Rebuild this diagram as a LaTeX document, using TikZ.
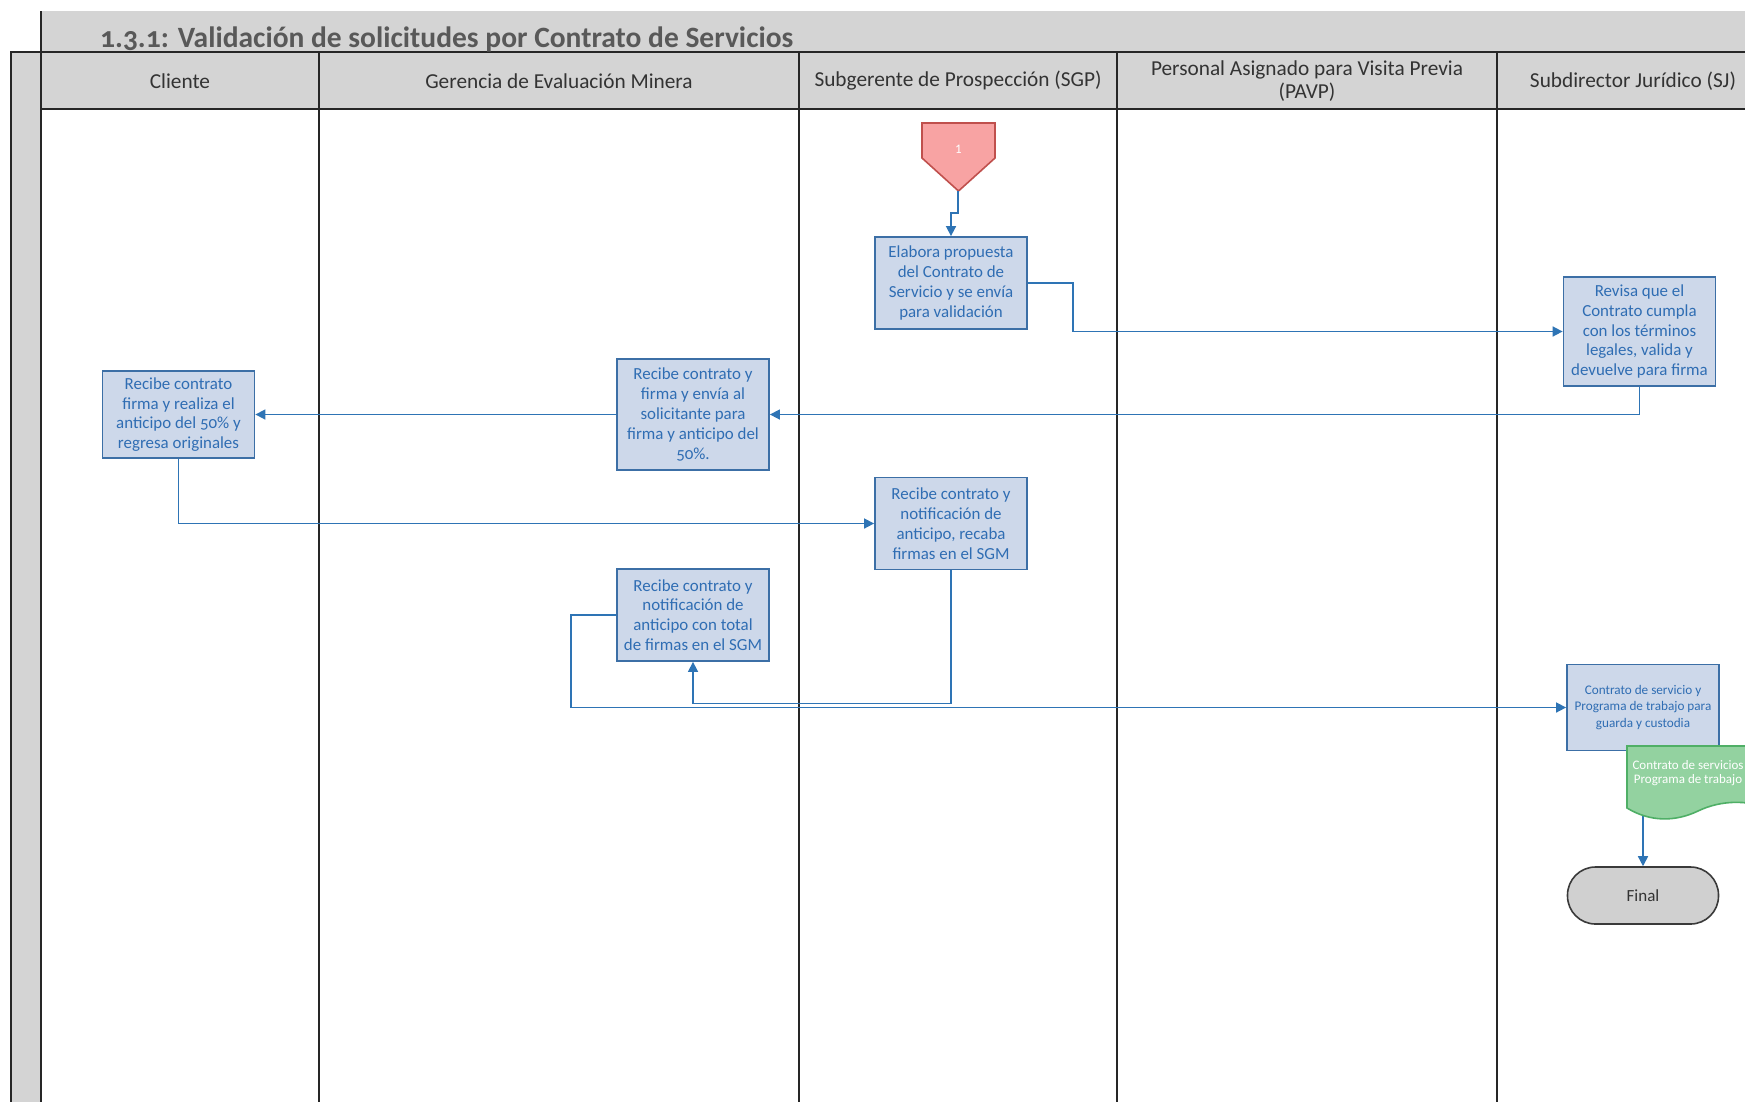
\documentclass[tikz,border=0pt]{standalone}
\usepackage{fontspec}
\setmainfont{Carlito}[Numbers=OldStyle]
\usetikzlibrary{arrows.meta,calc}

\definecolor{lanegray}{HTML}{D4D4D4}
\definecolor{laneink}{HTML}{262626}
\definecolor{titleink}{HTML}{595959}
\definecolor{hdrink}{HTML}{333333}
\definecolor{boxfill}{HTML}{CDD8EA}
\definecolor{boxline}{HTML}{3C6FA6}
\definecolor{boxtext}{HTML}{2F6DB3}
\definecolor{flowline}{HTML}{2E74B5}
\definecolor{offfill}{HTML}{F8A3A3}
\definecolor{offline}{HTML}{C0504D}
\definecolor{docfill}{HTML}{93D2A0}
\definecolor{docline}{HTML}{4FAF66}
\definecolor{endfill}{HTML}{D0D0D0}
\definecolor{endline}{HTML}{3A3A3A}

\tikzset{
  laneline/.style={draw=laneink, line width=2pt},
  hdr/.style={text=hdrink, align=center, font=\fontsize{21.3}{23.5}\selectfont},
  proc/.style={draw=boxline, fill=boxfill, line width=1.8pt, text=boxtext,
    align=center, minimum width=152pt, inner sep=0pt,
    font=\fontsize{16.9}{19.8}\selectfont},
  flow/.style={draw=flowline, line width=1.6pt,
    -{Triangle[length=10pt,width=10pt]}},
}

\begin{document}
\begin{tikzpicture}[x=1pt,y=-1pt]
\useasboundingbox (0,0) rectangle (1745,1101);
\clip (0,0) rectangle (1745,1101);
\fill[white] (0,0) rectangle (1745,1101);

% title band, left band and header row of the pool
\fill[lanegray] (41,11) rectangle (1769,52);
\draw[laneline] (41,11) -- (41,52);
\draw[laneline, fill=lanegray] (11,52) rectangle (41,1120);
\draw[laneline, fill=lanegray] (41,52) rectangle (1769,109);
\foreach \x in {319,799,1117,1497}
  \draw[laneline] (\x,52) -- (\x,1120);
\draw[laneline] (41,109) -- (41,1120);

\node[anchor=base west, text=titleink, inner sep=0pt,
  font=\fontsize{29.5}{32}\selectfont\bfseries] (title) at (100,47)
  {1.3.1: Validación de solicitudes por Contrato de Servicios};

% lane headers
\node[hdr] (hCli) at (180,81) {Cliente};
\node[hdr] (hGem) at (559,81) {Gerencia de Evaluación Minera};
\node[hdr] (hSgp) at (958,81) {Subgerente de Prospección (SGP)};
\node[hdr] (hPav) at (1307,81) {Personal Asignado para Visita Previa\\(PAVP)};
\node[hdr] (hSj)  at (1633,81) {Subdirector Jurídico (SJ)};

% off-page reference that opens the flow
\draw[fill=offfill, draw=offline, line width=1.6pt, line join=miter]
  (922,123) -- (995,123) -- (995,158) -- (958.5,191) -- (922,158) -- cycle;
\node[text=white, font=\fontsize{13}{15}\selectfont\addfontfeature{Numbers=Lining}]
  (start) at (958.5,149) {1};
\coordinate (startTip) at (958,191);

% activities
\node[proc, minimum height=92pt] (elabora) at (951,283)
  {Elabora propuesta\\del Contrato de\\Servicio y se envía\\para validación};
\node[proc, minimum height=109pt] (revisa) at (1639.5,331.5)
  {Revisa que el\\Contrato cumpla\\con los términos\\legales, valida y\\devuelve para firma};
\node[proc, minimum height=111pt] (gem1) at (693,414.5)
  {Recibe contrato y\\firma y envía al\\solicitante para\\firma y anticipo del\\50\%.};
\node[proc, minimum height=87pt] (cli1) at (178.5,414.5)
  {Recibe contrato\\firma y realiza el\\anticipo del 50\% y\\regresa originales};
\node[proc, minimum height=92pt] (sgp2) at (951,523.5)
  {Recibe contrato y\\notificación de\\anticipo, recaba\\firmas en el SGM};
\node[proc, minimum height=92pt] (gem2) at (693,615)
  {Recibe contrato y\\notificación de\\anticipo con total\\de firmas en el SGM};
\node[proc, minimum height=86pt, font=\fontsize{13.2}{16.5}\selectfont] (contrato) at (1643,707.5)
  {Contrato de servicio y\\Programa de trabajo para\\guarda y custodia};
\node[draw=endline, fill=endfill, line width=1.6pt, rounded corners=28pt,
  minimum width=151pt, minimum height=57pt, text=hdrink,
  font=\fontsize{17}{19}\selectfont] (final) at (1643,895.5) {Final};

% connectors
\draw[flow] (startTip) -- ++(0,22) -| (elabora.north);
\draw[flow] (elabora.east) -- ++(45,0) |- (revisa.west);
\draw[flow] (revisa.south) |- (gem1.east);
\draw[flow] (gem1.west) -- (cli1.east);
\draw[flow] (cli1.south) |- (sgp2.west);
\draw[flow] (sgp2.south) -- ++(0,133) -| (gem2.south);
\draw[flow] (gem2.west) -- ++(-45,0) |- (contrato.west);
\draw[flow] (contrato.south) -- (final.north);

% stored document
\draw[fill=docfill, draw=docline, line width=1.6pt]
  (1627,746) -- (1769,746) -- (1769,808)
  .. controls (1746,800) and (1721,800) .. (1698,811)
  .. controls (1675,822) and (1650,822) .. (1627,808) -- cycle;
\node[text=white, align=center, font=\fontsize{13}{14}\selectfont] (doc) at (1688,773)
  {Contrato de servicios\\Programa de trabajo};
\end{tikzpicture}
\end{document}
